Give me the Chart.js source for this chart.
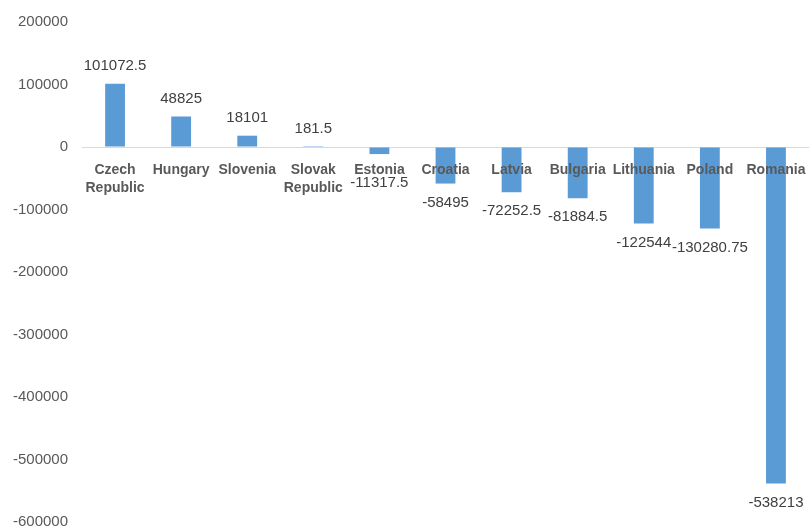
<!DOCTYPE html>
<html>
<head>
<meta charset="utf-8">
<script src="https://cdn.jsdelivr.net/npm/chart.js@4/dist/chart.umd.min.js"></script>
<style>
  html, body { margin: 0; padding: 0; background: #fff; }
  #wrap { width: 809px; height: 530px; }
</style>
</head>
<body>
<div id="wrap"><canvas id="myChart"></canvas></div>
<script>
// country names, split in lines the way they wrap under the bars
const countries = [
	['Czech', 'Republic'], ['Hungary'], ['Slovenia'], ['Slovak', 'Republic'], ['Estonia'],
	['Croatia'], ['Latvia'], ['Bulgaria'], ['Lithuania'], ['Poland'], ['Romania']
];
const values = [101072.5, 48825, 18101, 181.5, -11317.5, -58495, -72252.5, -81884.5, -122544, -130280.75, -538213];
const valueLabels = ['101072.5', '48825', '18101', '181.5', '-11317.5', '-58495', '-72252.5', '-81884.5', '-122544', '-130280.75', '-538213'];
const yTicks = [200000, 100000, 0, -100000, -200000, -300000, -400000, -500000, -600000];

const textColor = '#595959';

// draws the category names under the zero line and the value labels at the bar ends
const labelPlugin = {
	id: 'barLabels',
	afterDatasetsDraw(chart) {
		const ctx = chart.ctx;
		const x = chart.scales.x;
		const y = chart.scales.y;
		const zeroY = y.getPixelForValue(0);
		const meta = chart.getDatasetMeta(0);
		ctx.save();
		ctx.textAlign = 'center';
		ctx.textBaseline = 'middle';

		// category names
		ctx.fillStyle = textColor;
		ctx.font = 'bold 14px "Liberation Sans", Arial, sans-serif';
		for (let i = 0; i < countries.length; i++) {
			let cx = x.getPixelForValue(i);
			for (let j = 0; j < countries[i].length; j++) {
				ctx.fillText(countries[i][j], cx, zeroY + 23 + j * 18);
			}
		}

		// values
		ctx.font = '15px "Liberation Sans", Arial, sans-serif';
		ctx.fillStyle = '#404040';
		for (let i = 0; i < values.length; i++) {
			let bar = meta.data[i];
			let ly;
			if (values[i] >= 0) {
				ly = bar.y - 18;
			} else {
				ly = Math.max(bar.y + 19, zeroY + 36);
			}
			ctx.fillText(valueLabels[i], bar.x, ly);
		}
		ctx.restore();
	}
};

const ctx = document.getElementById('myChart').getContext('2d');
const myChart = new Chart(ctx, {
	type: 'bar',
	data: {
		labels: countries.map(c => c.join(' ')),
		datasets: [{
			data: values,
			backgroundColor: '#5B9BD5',
			borderWidth: 0,
			categoryPercentage: 1,
			barPercentage: 0.3
		}]
	},
	options: {
		responsive: true,
		maintainAspectRatio: false,
		animation: false,
		layout: { padding: { top: 22, right: 0, bottom: 8, left: 0 } },
		plugins: {
			legend: { display: false },
			tooltip: { enabled: false }
		},
		scales: {
			x: {
				display: false
			},
			y: {
				min: -600000,
				max: 200000,
				afterBuildTicks(axis) {
					axis.ticks = yTicks.slice().sort((a, b) => a - b).map(v => ({ value: v }));
				},
				afterFit(axis) {
					axis.width = 82;
					axis.paddingTop = 0;
					axis.paddingBottom = 0;
				},
				border: { display: false },
				grid: {
					drawTicks: false,
					color: c => (c.tick && c.tick.value === 0) ? '#d9d9d9' : 'rgba(0,0,0,0)'
				},
				ticks: {
					color: textColor,
					padding: 14,
					font: { family: '"Liberation Sans", Arial, sans-serif', size: 15 },
					callback: v => String(v)
				}
			}
		}
	},
	plugins: [labelPlugin]
});
</script>
</body>
</html>
